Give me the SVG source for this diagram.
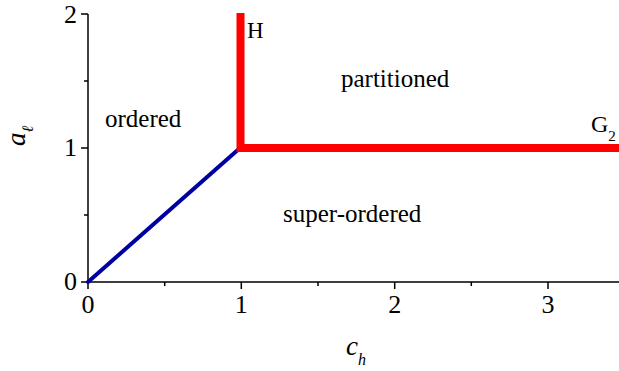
<svg xmlns="http://www.w3.org/2000/svg" width="619" height="371" viewBox="0 0 619 371">
<style>
.ax{stroke:#000;stroke-width:1.5;fill:none}
text{font-family:'Liberation Serif','Times New Roman',Times,serif;fill:#000}
.tk{font-size:26px}
.lb{font-size:25px}
.it{font-style:italic}
</style>
<rect width="619" height="371" fill="#fff"/>
<g id="axes">
<path class="ax" d="M88,14 V282 H619"/>
<path class="ax" d="M81,14 H88 M81,148 H88 M81,282 H88 M84,81 H88 M84,215 H88"/>
<path class="ax" d="M88,282 V289 M241.3,282 V289 M394.7,282 V289 M548,282 V289 M164.7,282 V286 M318,282 V286 M471.3,282 V286"/>
<g class="tk" text-anchor="end">
<text x="77" y="22.5" font-family="Liberation Serif">2</text>
<text x="77" y="156" font-family="Liberation Serif">1</text>
<text x="77" y="290" font-family="Liberation Serif">0</text>
</g>
<g class="tk" text-anchor="middle">
<text x="88" y="313" font-family="Liberation Serif">0</text>
<text x="241.3" y="313" font-family="Liberation Serif">1</text>
<text x="394.7" y="313" font-family="Liberation Serif">2</text>
<text x="548" y="313" font-family="Liberation Serif">3</text>
</g>
<text class="it" transform="translate(25,146) rotate(-90)" font-size="27">a<tspan font-size="16" dy="8">ℓ</tspan></text>
<text class="it" x="346" y="355" font-size="27">c<tspan font-size="16" dy="10">h</tspan></text>
</g>
<g id="connectors">
<line x1="88" y1="282" x2="240" y2="148" stroke="#0000A0" stroke-width="4" stroke-linecap="round"/>
<polyline points="240.5,13 240.5,148 619,148" fill="none" stroke="#FF0000" stroke-width="8" stroke-linejoin="miter"/>
</g>
<g id="node-ordered"><text class="lb" x="105" y="127">ordered</text></g>
<g id="node-partitioned"><text class="lb" x="341" y="87">partitioned</text></g>
<g id="node-super-ordered"><text class="lb" x="283" y="222">super-ordered</text></g>
<g id="node-H"><text x="247" y="38" font-size="23">H</text></g>
<g id="node-G2"><text x="591" y="132" font-size="24">G<tspan font-size="15" dy="9">2</tspan></text></g>
</svg>
